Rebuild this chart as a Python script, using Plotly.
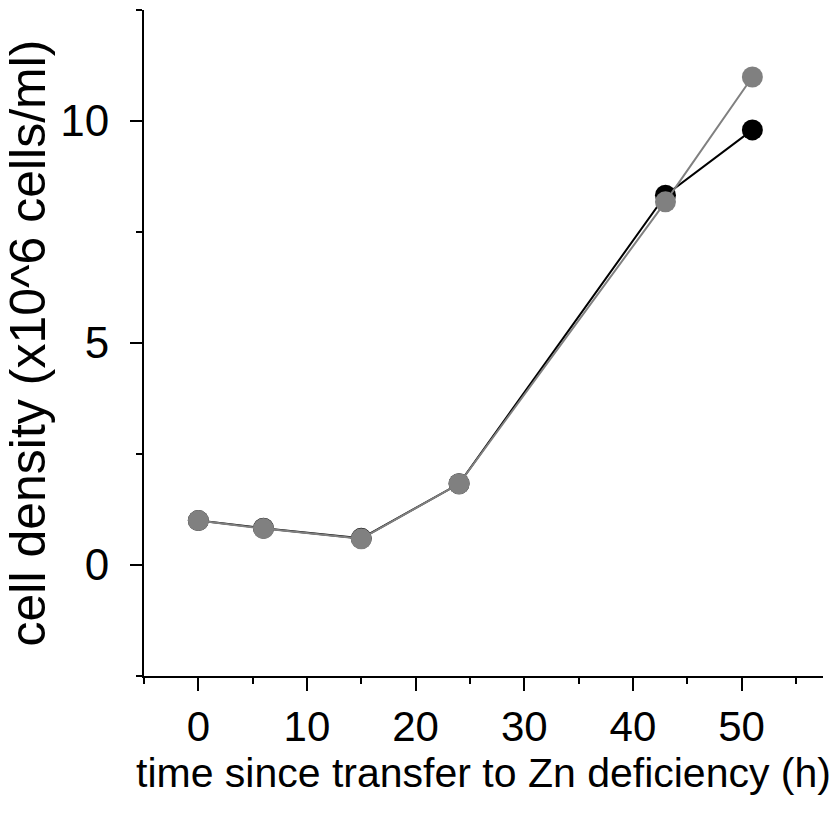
import plotly.graph_objects as go

time_h = [0, 6, 15, 24, 43, 51]
density_black = [1.0, 0.83, 0.6, 1.83, 8.33, 9.8]
density_gray = [1.0, 0.82, 0.59, 1.83, 8.18, 10.99]

fig = go.Figure()
fig.add_trace(go.Scatter(x=time_h, y=density_black, mode="lines+markers",
                         line=dict(color="black", width=2),
                         marker=dict(color="black", size=21), showlegend=False))
fig.add_trace(go.Scatter(x=time_h, y=density_gray, mode="lines+markers",
                         line=dict(color="#808080", width=2),
                         marker=dict(color="#808080", size=21), showlegend=False))

font = "Liberation Sans, Arial, sans-serif"
fig.update_layout(
    width=835, height=819,
    margin=dict(l=144, r=12, t=10, b=143),
    paper_bgcolor="white", plot_bgcolor="white",
    font=dict(family=font, color="black"),
    xaxis=dict(range=[-5, 57.5], tick0=0, dtick=10, ticks="outside", ticklen=13,
               tickwidth=2, tickcolor="black", showline=True, linewidth=2,
               linecolor="black", showgrid=False, zeroline=False, automargin=False,
               tickfont=dict(size=42), ticklabelstandoff=0,
               minor=dict(dtick=5, tick0=0, ticks="outside", ticklen=6,
                          tickwidth=2, tickcolor="black", showgrid=False),
               title=dict(text="time since transfer to Zn deficiency (h)",
                          font=dict(size=41), standoff=4)),
    yaxis=dict(range=[-2.5, 12.5], tick0=0, dtick=5, ticks="outside", ticklen=12,
               tickwidth=2, tickcolor="black", showline=True, linewidth=2,
               linecolor="black", showgrid=False, zeroline=False, automargin=False,
               tickfont=dict(size=44), ticklabelstandoff=12,
               minor=dict(dtick=2.5, tick0=0, ticks="outside", ticklen=6,
                          tickwidth=2, tickcolor="black", showgrid=False),
               title=dict(text="cell density (x10^6 cells/ml)",
                          font=dict(size=50), standoff=22)),
)
fig.write_html("out.html")
